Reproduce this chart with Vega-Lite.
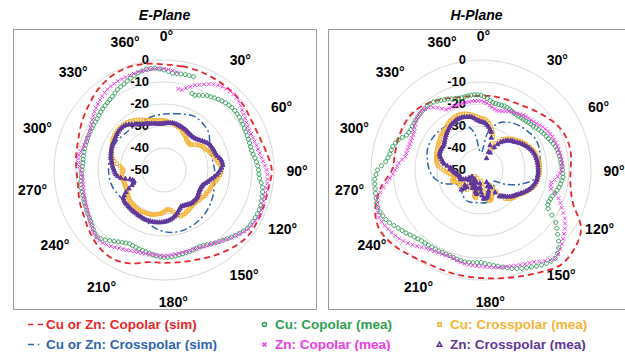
{
"$schema":"https://vega.github.io/schema/vega-lite/v6.json",
"padding":{"left":12,"top":8,"right":0,"bottom":0},
"spacing":10,
"config":{"font":"Liberation Sans","view":{"stroke":"#9a9a9a","strokeWidth":1},"title":{"fontSize":14,"fontWeight":"bold","fontStyle":"italic","offset":6,"color":"black"}},
"datasets":{
"rl":[{"t":"0","v":0},{"t":"-10","v":-10},{"t":"-20","v":-20},{"t":"-30","v":-30},{"t":"-40","v":-40},{"t":"-50","v":-50}],
"ang":[{"t":"0°","a":1},{"t":"30°","a":35},{"t":"60°","a":62},{"t":"90°","a":91},{"t":"120°","a":117},{"t":"150°","a":143},{"t":"180°","a":176},{"t":"210°","a":208},{"t":"240°","a":235},{"t":"270°","a":261},{"t":"300°","a":288},{"t":"330°","a":317},{"t":"360°","a":343}],
"E":[
{"s":"cs","a":0,"v":-2},{"s":"cs","a":10,"v":-2.2},{"s":"cs","a":20,"v":-2.3},{"s":"cs","a":30,"v":-2.6},{"s":"cs","a":40,"v":-2.9},{"s":"cs","a":50,"v":-3.3},{"s":"cs","a":60,"v":-4.3},{"s":"cs","a":70,"v":-4.2},{"s":"cs","a":80,"v":-2.8},{"s":"cs","a":90,"v":-1},{"s":"cs","a":100,"v":-1.8},{"s":"cs","a":110,"v":-1.8},{"s":"cs","a":120,"v":-1.5},{"s":"cs","a":130,"v":-1.6},{"s":"cs","a":140,"v":-3.2},{"s":"cs","a":150,"v":-5},{"s":"cs","a":160,"v":-6.6},{"s":"cs","a":170,"v":-7.5},{"s":"cs","a":180,"v":-7.8},{"s":"cs","a":190,"v":-7.5},{"s":"cs","a":200,"v":-4.8},{"s":"cs","a":210,"v":-3.4},{"s":"cs","a":220,"v":-4.1},{"s":"cs","a":230,"v":-6},{"s":"cs","a":240,"v":-8},{"s":"cs","a":250,"v":-9.1},{"s":"cs","a":260,"v":-10.3},{"s":"cs","a":270,"v":-10.2},{"s":"cs","a":280,"v":-9.5},{"s":"cs","a":290,"v":-8.6},{"s":"cs","a":300,"v":-6.8},{"s":"cs","a":310,"v":-5},{"s":"cs","a":320,"v":-2.8},{"s":"cs","a":330,"v":-1.2},{"s":"cs","a":340,"v":-0.6},{"s":"cs","a":350,"v":-1},
{"s":"xs","a":0,"v":-24.5},{"s":"xs","a":10,"v":-24},{"s":"xs","a":20,"v":-23},{"s":"xs","a":30,"v":-22},{"s":"xs","a":40,"v":-22.5},{"s":"xs","a":50,"v":-23.5},{"s":"xs","a":60,"v":-26},{"s":"xs","a":70,"v":-27.5},{"s":"xs","a":80,"v":-27.5},{"s":"xs","a":90,"v":-27},{"s":"xs","a":100,"v":-26.8},{"s":"xs","a":110,"v":-25.8},{"s":"xs","a":120,"v":-24.6},{"s":"xs","a":130,"v":-23.5},{"s":"xs","a":140,"v":-22.5},{"s":"xs","a":150,"v":-21.8},{"s":"xs","a":160,"v":-21.3},{"s":"xs","a":170,"v":-21.3},{"s":"xs","a":180,"v":-22},{"s":"xs","a":190,"v":-23.5},{"s":"xs","a":200,"v":-25.5},{"s":"xs","a":210,"v":-26.5},{"s":"xs","a":220,"v":-27},{"s":"xs","a":230,"v":-27},{"s":"xs","a":240,"v":-26.5},{"s":"xs","a":250,"v":-25.5},{"s":"xs","a":260,"v":-25},{"s":"xs","a":270,"v":-24.8},{"s":"xs","a":280,"v":-24.7},{"s":"xs","a":290,"v":-24.5},{"s":"xs","a":300,"v":-24.8},{"s":"xs","a":310,"v":-25.5},{"s":"xs","a":320,"v":-26},{"s":"xs","a":330,"v":-26},{"s":"xs","a":340,"v":-25.5},{"s":"xs","a":350,"v":-25},
{"s":"cc","a":0,"v":-4.5},{"s":"cc","a":5,"v":-5.8},{"s":"cc","a":10,"v":-5.7},{"s":"cc","a":15,"v":-5.6},{"s":"cc","a":20,"v":-13},{"s":"cc","a":25,"v":-12.5},{"s":"cc","a":30,"v":-11},{"s":"cc","a":35,"v":-10},{"s":"cc","a":40,"v":-9},{"s":"cc","a":45,"v":-8.3},{"s":"cc","a":50,"v":-8},{"s":"cc","a":55,"v":-8.2},{"s":"cc","a":60,"v":-8.6},{"s":"cc","a":65,"v":-8.9},{"s":"cc","a":70,"v":-9.1},{"s":"cc","a":75,"v":-9.2},{"s":"cc","a":80,"v":-8.8},{"s":"cc","a":85,"v":-7.8},{"s":"cc","a":90,"v":-7},{"s":"cc","a":95,"v":-6.4},{"s":"cc","a":100,"v":-4.5},{"s":"cc","a":105,"v":-3.8},{"s":"cc","a":110,"v":-3.2},{"s":"cc","a":115,"v":-3.1},{"s":"cc","a":120,"v":-3.3},{"s":"cc","a":125,"v":-3.8},{"s":"cc","a":130,"v":-5.2},{"s":"cc","a":135,"v":-6.8},{"s":"cc","a":140,"v":-8.3},{"s":"cc","a":145,"v":-9.5},{"s":"cc","a":150,"v":-10.8},{"s":"cc","a":155,"v":-11.6},{"s":"cc","a":160,"v":-11.4},{"s":"cc","a":165,"v":-11.2},{"s":"cc","a":170,"v":-10.8},{"s":"cc","a":175,"v":-10.4},{"s":"cc","a":180,"v":-10.2},{"s":"cc","a":185,"v":-10.8},{"s":"cc","a":190,"v":-11.6},{"s":"cc","a":195,"v":-12.2},{"s":"cc","a":200,"v":-12.6},{"s":"cc","a":205,"v":-13},{"s":"cc","a":210,"v":-12},{"s":"cc","a":215,"v":-10.5},{"s":"cc","a":220,"v":-8.5},{"s":"cc","a":225,"v":-7},{"s":"cc","a":230,"v":-8},{"s":"cc","a":235,"v":-9.3},{"s":"cc","a":240,"v":-10},{"s":"cc","a":245,"v":-10.8},{"s":"cc","a":250,"v":-11.3},{"s":"cc","a":255,"v":-11.5},{"s":"cc","a":260,"v":-11.8},{"s":"cc","a":265,"v":-12.3},{"s":"cc","a":270,"v":-12.8},{"s":"cc","a":275,"v":-13},{"s":"cc","a":280,"v":-12.8},{"s":"cc","a":285,"v":-12.6},{"s":"cc","a":290,"v":-12.5},{"s":"cc","a":295,"v":-12.3},{"s":"cc","a":300,"v":-12.1},{"s":"cc","a":305,"v":-11.9},{"s":"cc","a":310,"v":-11.4},{"s":"cc","a":315,"v":-10.6},{"s":"cc","a":320,"v":-10},{"s":"cc","a":325,"v":-9.2},{"s":"cc","a":330,"v":-7.8},{"s":"cc","a":335,"v":-6.9},{"s":"cc","a":340,"v":-5.6},{"s":"cc","a":345,"v":-4.3},{"s":"cc","a":350,"v":-3.5},{"s":"cc","a":355,"v":-3.5},
{"s":"cc","a":2.5,"v":-5.2},{"s":"cc","a":7.5,"v":-5.8},{"s":"cc","a":12.5,"v":-5.6},{"s":"cc","a":17.5,"v":-5.5},{"s":"cc","a":22.5,"v":-13.2},{"s":"cc","a":27.5,"v":-11.8},{"s":"cc","a":32.5,"v":-10.5},{"s":"cc","a":37.5,"v":-9.5},{"s":"cc","a":42.5,"v":-8.6},{"s":"cc","a":47.5,"v":-8.1},{"s":"cc","a":52.5,"v":-8.1},{"s":"cc","a":57.5,"v":-8.4},{"s":"cc","a":62.5,"v":-8.8},{"s":"cc","a":67.5,"v":-9},{"s":"cc","a":72.5,"v":-9.2},{"s":"cc","a":77.5,"v":-9.1},{"s":"cc","a":82.5,"v":-8.3},{"s":"cc","a":87.5,"v":-7.4},{"s":"cc","a":92.5,"v":-6.8},{"s":"cc","a":97.5,"v":-5.4},{"s":"cc","a":102.5,"v":-4.1},{"s":"cc","a":107.5,"v":-3.5},{"s":"cc","a":112.5,"v":-3.1},{"s":"cc","a":117.5,"v":-3.2},{"s":"cc","a":122.5,"v":-3.5},{"s":"cc","a":127.5,"v":-4.5},{"s":"cc","a":132.5,"v":-6},{"s":"cc","a":137.5,"v":-7.6},{"s":"cc","a":142.5,"v":-8.9},{"s":"cc","a":147.5,"v":-10.2},{"s":"cc","a":152.5,"v":-11.3},{"s":"cc","a":157.5,"v":-11.5},{"s":"cc","a":162.5,"v":-11.3},{"s":"cc","a":167.5,"v":-11},{"s":"cc","a":172.5,"v":-10.6},{"s":"cc","a":177.5,"v":-10.3},{"s":"cc","a":182.5,"v":-10.5},{"s":"cc","a":187.5,"v":-11.2},{"s":"cc","a":192.5,"v":-11.9},{"s":"cc","a":197.5,"v":-12.4},{"s":"cc","a":202.5,"v":-12.8},{"s":"cc","a":207.5,"v":-12.6},{"s":"cc","a":212.5,"v":-11.3},{"s":"cc","a":217.5,"v":-9.5},{"s":"cc","a":222.5,"v":-7.6},{"s":"cc","a":227.5,"v":-7.4},{"s":"cc","a":232.5,"v":-8.7},{"s":"cc","a":237.5,"v":-9.7},{"s":"cc","a":242.5,"v":-10.4},{"s":"cc","a":247.5,"v":-11},{"s":"cc","a":252.5,"v":-11.4},{"s":"cc","a":257.5,"v":-11.6},{"s":"cc","a":262.5,"v":-12},{"s":"cc","a":267.5,"v":-12.5},{"s":"cc","a":272.5,"v":-12.9},{"s":"cc","a":277.5,"v":-12.9},{"s":"cc","a":282.5,"v":-12.7},{"s":"cc","a":287.5,"v":-12.5},{"s":"cc","a":292.5,"v":-12.4},{"s":"cc","a":297.5,"v":-12.2},{"s":"cc","a":302.5,"v":-12},{"s":"cc","a":307.5,"v":-11.7},{"s":"cc","a":312.5,"v":-11},{"s":"cc","a":317.5,"v":-10.3},{"s":"cc","a":322.5,"v":-9.6},{"s":"cc","a":327.5,"v":-8.5},{"s":"cc","a":332.5,"v":-7.3},{"s":"cc","a":337.5,"v":-6.2},{"s":"cc","a":342.5,"v":-5},{"s":"cc","a":347.5,"v":-3.9},{"s":"cc","a":352.5,"v":-3.5},{"s":"cc","a":357.5,"v":-4},
{"s":"zc","a":0,"v":-4},{"s":"zc","a":5,"v":-4.7},{"s":"zc","a":10,"v":-12.5},{"s":"zc","a":15,"v":-11.5},{"s":"zc","a":20,"v":-9},{"s":"zc","a":25,"v":-7},{"s":"zc","a":30,"v":-5},{"s":"zc","a":35,"v":-3.8},{"s":"zc","a":40,"v":-3.2},{"s":"zc","a":45,"v":-3.4},{"s":"zc","a":50,"v":-4.5},{"s":"zc","a":55,"v":-5.8},{"s":"zc","a":60,"v":-6.8},{"s":"zc","a":65,"v":-7.3},{"s":"zc","a":70,"v":-7},{"s":"zc","a":75,"v":-6.5},{"s":"zc","a":80,"v":-5.8},{"s":"zc","a":85,"v":-4.8},{"s":"zc","a":90,"v":-3.4},{"s":"zc","a":95,"v":-2.7},{"s":"zc","a":100,"v":-2.7},{"s":"zc","a":105,"v":-2.7},{"s":"zc","a":110,"v":-2.3},{"s":"zc","a":115,"v":-2},{"s":"zc","a":120,"v":-2.5},{"s":"zc","a":125,"v":-3.3},{"s":"zc","a":130,"v":-5},{"s":"zc","a":135,"v":-6.6},{"s":"zc","a":140,"v":-8.3},{"s":"zc","a":145,"v":-9.5},{"s":"zc","a":150,"v":-10.4},{"s":"zc","a":155,"v":-11.2},{"s":"zc","a":160,"v":-11.6},{"s":"zc","a":165,"v":-11.6},{"s":"zc","a":170,"v":-11.5},{"s":"zc","a":175,"v":-11.3},{"s":"zc","a":180,"v":-11},{"s":"zc","a":185,"v":-11.2},{"s":"zc","a":190,"v":-11.3},{"s":"zc","a":195,"v":-11},{"s":"zc","a":200,"v":-10.7},{"s":"zc","a":205,"v":-9.8},{"s":"zc","a":210,"v":-9},{"s":"zc","a":215,"v":-7.8},{"s":"zc","a":220,"v":-6.7},{"s":"zc","a":225,"v":-6.8},{"s":"zc","a":230,"v":-7.8},{"s":"zc","a":235,"v":-9},{"s":"zc","a":240,"v":-10.3},{"s":"zc","a":245,"v":-11},{"s":"zc","a":250,"v":-11.6},{"s":"zc","a":255,"v":-12.2},{"s":"zc","a":260,"v":-12.7},{"s":"zc","a":265,"v":-12.8},{"s":"zc","a":270,"v":-12},{"s":"zc","a":275,"v":-11},{"s":"zc","a":280,"v":-10.7},{"s":"zc","a":285,"v":-11.8},{"s":"zc","a":290,"v":-12.2},{"s":"zc","a":295,"v":-12.2},{"s":"zc","a":300,"v":-11.5},{"s":"zc","a":305,"v":-10.2},{"s":"zc","a":310,"v":-8.8},{"s":"zc","a":315,"v":-7.6},{"s":"zc","a":320,"v":-6.3},{"s":"zc","a":325,"v":-5.2},{"s":"zc","a":330,"v":-4.7},{"s":"zc","a":335,"v":-4.4},{"s":"zc","a":340,"v":-4.3},{"s":"zc","a":345,"v":-4},{"s":"zc","a":350,"v":-3.8},{"s":"zc","a":355,"v":-3.8},
{"s":"zc","a":2.5,"v":-4.3},{"s":"zc","a":7.5,"v":-5.2},{"s":"zc","a":12.5,"v":-12.8},{"s":"zc","a":17.5,"v":-10.3},{"s":"zc","a":22.5,"v":-8},{"s":"zc","a":27.5,"v":-6},{"s":"zc","a":32.5,"v":-4.4},{"s":"zc","a":37.5,"v":-3.5},{"s":"zc","a":42.5,"v":-3.2},{"s":"zc","a":47.5,"v":-3.9},{"s":"zc","a":52.5,"v":-5.2},{"s":"zc","a":57.5,"v":-6.3},{"s":"zc","a":62.5,"v":-7.1},{"s":"zc","a":67.5,"v":-7.2},{"s":"zc","a":72.5,"v":-6.8},{"s":"zc","a":77.5,"v":-6.2},{"s":"zc","a":82.5,"v":-5.3},{"s":"zc","a":87.5,"v":-4.1},{"s":"zc","a":92.5,"v":-3},{"s":"zc","a":97.5,"v":-2.7},{"s":"zc","a":102.5,"v":-2.7},{"s":"zc","a":107.5,"v":-2.5},{"s":"zc","a":112.5,"v":-2.1},{"s":"zc","a":117.5,"v":-2.2},{"s":"zc","a":122.5,"v":-2.9},{"s":"zc","a":127.5,"v":-4.1},{"s":"zc","a":132.5,"v":-5.8},{"s":"zc","a":137.5,"v":-7.4},{"s":"zc","a":142.5,"v":-8.9},{"s":"zc","a":147.5,"v":-10},{"s":"zc","a":152.5,"v":-10.8},{"s":"zc","a":157.5,"v":-11.4},{"s":"zc","a":162.5,"v":-11.6},{"s":"zc","a":167.5,"v":-11.6},{"s":"zc","a":172.5,"v":-11.4},{"s":"zc","a":177.5,"v":-11.1},{"s":"zc","a":182.5,"v":-11.1},{"s":"zc","a":187.5,"v":-11.3},{"s":"zc","a":192.5,"v":-11.2},{"s":"zc","a":197.5,"v":-10.9},{"s":"zc","a":202.5,"v":-10.3},{"s":"zc","a":207.5,"v":-9.4},{"s":"zc","a":212.5,"v":-8.4},{"s":"zc","a":217.5,"v":-7.2},{"s":"zc","a":222.5,"v":-6.6},{"s":"zc","a":227.5,"v":-7.3},{"s":"zc","a":232.5,"v":-8.4},{"s":"zc","a":237.5,"v":-9.7},{"s":"zc","a":242.5,"v":-10.7},{"s":"zc","a":247.5,"v":-11.3},{"s":"zc","a":252.5,"v":-11.9},{"s":"zc","a":257.5,"v":-12.5},{"s":"zc","a":262.5,"v":-12.8},{"s":"zc","a":267.5,"v":-12.5},{"s":"zc","a":272.5,"v":-11.5},{"s":"zc","a":277.5,"v":-10.8},{"s":"zc","a":282.5,"v":-11.2},{"s":"zc","a":287.5,"v":-12},{"s":"zc","a":292.5,"v":-12.2},{"s":"zc","a":297.5,"v":-11.9},{"s":"zc","a":302.5,"v":-10.9},{"s":"zc","a":307.5,"v":-9.5},{"s":"zc","a":312.5,"v":-8.2},{"s":"zc","a":317.5,"v":-6.9},{"s":"zc","a":322.5,"v":-5.7},{"s":"zc","a":327.5,"v":-4.9},{"s":"zc","a":332.5,"v":-4.5},{"s":"zc","a":337.5,"v":-4.3},{"s":"zc","a":342.5,"v":-4.1},{"s":"zc","a":347.5,"v":-3.9},{"s":"zc","a":352.5,"v":-3.8},{"s":"zc","a":357.5,"v":-3.9},
{"s":"cx","a":0,"v":-27.5},{"s":"cx","a":5,"v":-28},{"s":"cx","a":10,"v":-28.5},{"s":"cx","a":15,"v":-29},{"s":"cx","a":20,"v":-29.5},{"s":"cx","a":25,"v":-30.5},{"s":"cx","a":30,"v":-31.5},{"s":"cx","a":35,"v":-32.5},{"s":"cx","a":40,"v":-33.2},{"s":"cx","a":45,"v":-33.6},{"s":"cx","a":50,"v":-32},{"s":"cx","a":55,"v":-30.5},{"s":"cx","a":60,"v":-29.3},{"s":"cx","a":65,"v":-28.5},{"s":"cx","a":70,"v":-27.5},{"s":"cx","a":75,"v":-26.5},{"s":"cx","a":80,"v":-25.5},{"s":"cx","a":85,"v":-24.5},{"s":"cx","a":90,"v":-24},{"s":"cx","a":95,"v":-24.5},{"s":"cx","a":100,"v":-25.5},{"s":"cx","a":105,"v":-26.5},{"s":"cx","a":110,"v":-27.3},{"s":"cx","a":115,"v":-27.6},{"s":"cx","a":120,"v":-28},{"s":"cx","a":125,"v":-28.5},{"s":"cx","a":130,"v":-29},{"s":"cx","a":135,"v":-29.5},{"s":"cx","a":140,"v":-29.5},{"s":"cx","a":145,"v":-29},{"s":"cx","a":150,"v":-28.5},{"s":"cx","a":155,"v":-28},{"s":"cx","a":160,"v":-27.7},{"s":"cx","a":165,"v":-29.5},{"s":"cx","a":170,"v":-31.5},{"s":"cx","a":175,"v":-32},{"s":"cx","a":180,"v":-31},{"s":"cx","a":185,"v":-30},{"s":"cx","a":190,"v":-29.5},{"s":"cx","a":195,"v":-29},{"s":"cx","a":200,"v":-28.8},{"s":"cx","a":205,"v":-28.7},{"s":"cx","a":210,"v":-28.6},{"s":"cx","a":215,"v":-28.6},{"s":"cx","a":220,"v":-28.8},{"s":"cx","a":225,"v":-29},{"s":"cx","a":230,"v":-29.2},{"s":"cx","a":235,"v":-30},{"s":"cx","a":240,"v":-30.5},{"s":"cx","a":245,"v":-31},{"s":"cx","a":250,"v":-31.2},{"s":"cx","a":255,"v":-31},{"s":"cx","a":260,"v":-30.5},{"s":"cx","a":265,"v":-30.8},{"s":"cx","a":270,"v":-31.5},{"s":"cx","a":275,"v":-30},{"s":"cx","a":280,"v":-27},{"s":"cx","a":285,"v":-25.5},{"s":"cx","a":290,"v":-24.5},{"s":"cx","a":295,"v":-23.8},{"s":"cx","a":300,"v":-23},{"s":"cx","a":305,"v":-22.5},{"s":"cx","a":310,"v":-22.3},{"s":"cx","a":315,"v":-22.2},{"s":"cx","a":320,"v":-22.5},{"s":"cx","a":325,"v":-23},{"s":"cx","a":330,"v":-23.8},{"s":"cx","a":335,"v":-24.8},{"s":"cx","a":340,"v":-25.8},{"s":"cx","a":345,"v":-26.5},{"s":"cx","a":350,"v":-27},{"s":"cx","a":355,"v":-27.3},
{"s":"cx","a":2.5,"v":-27.6},{"s":"cx","a":7.5,"v":-28.4},{"s":"cx","a":12.5,"v":-28.6},{"s":"cx","a":17.5,"v":-29.4},{"s":"cx","a":22.5,"v":-29.8},{"s":"cx","a":27.5,"v":-31.1},{"s":"cx","a":32.5,"v":-31.8},{"s":"cx","a":37.5,"v":-33},{"s":"cx","a":42.5,"v":-33.3},{"s":"cx","a":47.5,"v":-33},{"s":"cx","a":52.5,"v":-31.2},{"s":"cx","a":57.5,"v":-29.8},{"s":"cx","a":62.5,"v":-29},{"s":"cx","a":67.5,"v":-27.9},{"s":"cx","a":72.5,"v":-27.1},{"s":"cx","a":77.5,"v":-25.9},{"s":"cx","a":82.5,"v":-25.1},{"s":"cx","a":87.5,"v":-24.1},{"s":"cx","a":92.5,"v":-24.2},{"s":"cx","a":97.5,"v":-25.1},{"s":"cx","a":102.5,"v":-25.9},{"s":"cx","a":107.5,"v":-27},{"s":"cx","a":112.5,"v":-27.4},{"s":"cx","a":117.5,"v":-27.9},{"s":"cx","a":122.5,"v":-28.2},{"s":"cx","a":127.5,"v":-28.8},{"s":"cx","a":132.5,"v":-29.3},{"s":"cx","a":137.5,"v":-29.4},{"s":"cx","a":142.5,"v":-29.3},{"s":"cx","a":147.5,"v":-28.7},{"s":"cx","a":152.5,"v":-28.3},{"s":"cx","a":157.5,"v":-27.8},{"s":"cx","a":162.5,"v":-28.5},{"s":"cx","a":167.5,"v":-30.6},{"s":"cx","a":172.5,"v":-31.8},{"s":"cx","a":177.5,"v":-31.6},{"s":"cx","a":182.5,"v":-30.4},{"s":"cx","a":187.5,"v":-29.8},{"s":"cx","a":192.5,"v":-29.2},{"s":"cx","a":197.5,"v":-28.9},{"s":"cx","a":202.5,"v":-28.8},{"s":"cx","a":207.5,"v":-28.6},{"s":"cx","a":212.5,"v":-28.6},{"s":"cx","a":217.5,"v":-28.7},{"s":"cx","a":222.5,"v":-28.9},{"s":"cx","a":227.5,"v":-29.1},{"s":"cx","a":232.5,"v":-29.6},{"s":"cx","a":237.5,"v":-30.3},{"s":"cx","a":242.5,"v":-30.8},{"s":"cx","a":247.5,"v":-31.1},{"s":"cx","a":252.5,"v":-31.1},{"s":"cx","a":257.5,"v":-30.7},{"s":"cx","a":262.5,"v":-30.6},{"s":"cx","a":267.5,"v":-31.2},{"s":"cx","a":272.5,"v":-30.9},{"s":"cx","a":277.5,"v":-28.4},{"s":"cx","a":282.5,"v":-26.2},{"s":"cx","a":287.5,"v":-25},{"s":"cx","a":292.5,"v":-24.1},{"s":"cx","a":297.5,"v":-23.4},{"s":"cx","a":302.5,"v":-22.8},{"s":"cx","a":307.5,"v":-22.4},{"s":"cx","a":312.5,"v":-22.2},{"s":"cx","a":317.5,"v":-22.3},{"s":"cx","a":322.5,"v":-22.7},{"s":"cx","a":327.5,"v":-23.4},{"s":"cx","a":332.5,"v":-24.3},{"s":"cx","a":337.5,"v":-25.3},{"s":"cx","a":342.5,"v":-26.2},{"s":"cx","a":347.5,"v":-26.8},{"s":"cx","a":352.5,"v":-27.2},{"s":"cx","a":357.5,"v":-27.4},
{"s":"zx","a":0,"v":-28.8},{"s":"zx","a":5,"v":-28.5},{"s":"zx","a":10,"v":-28.2},{"s":"zx","a":15,"v":-28.3},{"s":"zx","a":20,"v":-28.6},{"s":"zx","a":25,"v":-29},{"s":"zx","a":30,"v":-29.3},{"s":"zx","a":35,"v":-29.8},{"s":"zx","a":40,"v":-30},{"s":"zx","a":45,"v":-29.7},{"s":"zx","a":50,"v":-28.8},{"s":"zx","a":55,"v":-27.5},{"s":"zx","a":60,"v":-26.2},{"s":"zx","a":65,"v":-25.8},{"s":"zx","a":70,"v":-25.5},{"s":"zx","a":75,"v":-25},{"s":"zx","a":80,"v":-23.5},{"s":"zx","a":85,"v":-23.2},{"s":"zx","a":90,"v":-24.5},{"s":"zx","a":95,"v":-26},{"s":"zx","a":100,"v":-28},{"s":"zx","a":105,"v":-29.5},{"s":"zx","a":110,"v":-31},{"s":"zx","a":115,"v":-31.5},{"s":"zx","a":120,"v":-31.5},{"s":"zx","a":125,"v":-31},{"s":"zx","a":130,"v":-30.5},{"s":"zx","a":135,"v":-30.5},{"s":"zx","a":140,"v":-30.5},{"s":"zx","a":145,"v":-31},{"s":"zx","a":150,"v":-31.5},{"s":"zx","a":155,"v":-31.8},{"s":"zx","a":160,"v":-30.5},{"s":"zx","a":165,"v":-29},{"s":"zx","a":170,"v":-27.8},{"s":"zx","a":175,"v":-27},{"s":"zx","a":180,"v":-26.5},{"s":"zx","a":185,"v":-26.2},{"s":"zx","a":190,"v":-26},{"s":"zx","a":195,"v":-26},{"s":"zx","a":200,"v":-26},{"s":"zx","a":205,"v":-26.3},{"s":"zx","a":210,"v":-26.5},{"s":"zx","a":215,"v":-26.7},{"s":"zx","a":220,"v":-26.8},{"s":"zx","a":225,"v":-27},{"s":"zx","a":230,"v":-27},{"s":"zx","a":235,"v":-27.5},{"s":"zx","a":240,"v":-30},{"s":"zx","a":245,"v":-34},{"s":"zx","a":250,"v":-35.5},{"s":"zx","a":255,"v":-34},{"s":"zx","a":260,"v":-30},{"s":"zx","a":265,"v":-28},{"s":"zx","a":270,"v":-27.3},{"s":"zx","a":275,"v":-26.5},{"s":"zx","a":280,"v":-25.8},{"s":"zx","a":285,"v":-25},{"s":"zx","a":290,"v":-24.5},{"s":"zx","a":295,"v":-24},{"s":"zx","a":300,"v":-23.7},{"s":"zx","a":305,"v":-23.3},{"s":"zx","a":310,"v":-22.8},{"s":"zx","a":315,"v":-22.7},{"s":"zx","a":320,"v":-23.2},{"s":"zx","a":325,"v":-24.5},{"s":"zx","a":330,"v":-26},{"s":"zx","a":335,"v":-27},{"s":"zx","a":340,"v":-27.5},{"s":"zx","a":345,"v":-28},{"s":"zx","a":350,"v":-28.5},{"s":"zx","a":355,"v":-28.8},
{"s":"zx","a":2.5,"v":-28.6},{"s":"zx","a":7.5,"v":-28.4},{"s":"zx","a":12.5,"v":-28.2},{"s":"zx","a":17.5,"v":-28.5},{"s":"zx","a":22.5,"v":-28.8},{"s":"zx","a":27.5,"v":-29.1},{"s":"zx","a":32.5,"v":-29.6},{"s":"zx","a":37.5,"v":-29.9},{"s":"zx","a":42.5,"v":-29.9},{"s":"zx","a":47.5,"v":-29.3},{"s":"zx","a":52.5,"v":-28.1},{"s":"zx","a":57.5,"v":-26.8},{"s":"zx","a":62.5,"v":-26},{"s":"zx","a":67.5,"v":-25.6},{"s":"zx","a":72.5,"v":-25.3},{"s":"zx","a":77.5,"v":-24.2},{"s":"zx","a":82.5,"v":-23.3},{"s":"zx","a":87.5,"v":-23.8},{"s":"zx","a":92.5,"v":-25.2},{"s":"zx","a":97.5,"v":-27},{"s":"zx","a":102.5,"v":-28.8},{"s":"zx","a":107.5,"v":-30.3},{"s":"zx","a":112.5,"v":-31.3},{"s":"zx","a":117.5,"v":-31.5},{"s":"zx","a":122.5,"v":-31.2},{"s":"zx","a":127.5,"v":-30.7},{"s":"zx","a":132.5,"v":-30.5},{"s":"zx","a":137.5,"v":-30.5},{"s":"zx","a":142.5,"v":-30.7},{"s":"zx","a":147.5,"v":-31.3},{"s":"zx","a":152.5,"v":-31.7},{"s":"zx","a":157.5,"v":-31.2},{"s":"zx","a":162.5,"v":-29.7},{"s":"zx","a":167.5,"v":-28.4},{"s":"zx","a":172.5,"v":-27.4},{"s":"zx","a":177.5,"v":-26.7},{"s":"zx","a":182.5,"v":-26.3},{"s":"zx","a":187.5,"v":-26.1},{"s":"zx","a":192.5,"v":-26},{"s":"zx","a":197.5,"v":-26},{"s":"zx","a":202.5,"v":-26.1},{"s":"zx","a":207.5,"v":-26.4},{"s":"zx","a":212.5,"v":-26.6},{"s":"zx","a":217.5,"v":-26.7},{"s":"zx","a":222.5,"v":-26.9},{"s":"zx","a":227.5,"v":-27},{"s":"zx","a":232.5,"v":-27.2},{"s":"zx","a":237.5,"v":-28.5},{"s":"zx","a":242.5,"v":-32},{"s":"zx","a":247.5,"v":-35},{"s":"zx","a":252.5,"v":-35},{"s":"zx","a":257.5,"v":-32},{"s":"zx","a":262.5,"v":-28.8},{"s":"zx","a":267.5,"v":-27.6},{"s":"zx","a":272.5,"v":-26.9},{"s":"zx","a":277.5,"v":-26.1},{"s":"zx","a":282.5,"v":-25.4},{"s":"zx","a":287.5,"v":-24.7},{"s":"zx","a":292.5,"v":-24.2},{"s":"zx","a":297.5,"v":-23.8},{"s":"zx","a":302.5,"v":-23.5},{"s":"zx","a":307.5,"v":-23},{"s":"zx","a":312.5,"v":-22.7},{"s":"zx","a":317.5,"v":-22.9},{"s":"zx","a":322.5,"v":-23.8},{"s":"zx","a":327.5,"v":-25.3},{"s":"zx","a":332.5,"v":-26.5},{"s":"zx","a":337.5,"v":-27.3},{"s":"zx","a":342.5,"v":-27.8},{"s":"zx","a":347.5,"v":-28.3},{"s":"zx","a":352.5,"v":-28.7},{"s":"zx","a":357.5,"v":-28.8}
],
"H":[
{"s":"cs","a":0,"v":-16.3},{"s":"cs","a":10,"v":-16},{"s":"cs","a":20,"v":-16},{"s":"cs","a":30,"v":-15.5},{"s":"cs","a":40,"v":-14},{"s":"cs","a":50,"v":-12},{"s":"cs","a":60,"v":-9.7},{"s":"cs","a":70,"v":-8.5},{"s":"cs","a":80,"v":-8.5},{"s":"cs","a":90,"v":-9.3},{"s":"cs","a":100,"v":-8.7},{"s":"cs","a":110,"v":-5.5},{"s":"cs","a":120,"v":2.5},{"s":"cs","a":130,"v":5.5},{"s":"cs","a":140,"v":6.3},{"s":"cs","a":150,"v":3.7},{"s":"cs","a":160,"v":1.5},{"s":"cs","a":170,"v":0},{"s":"cs","a":180,"v":-0.9},{"s":"cs","a":190,"v":-1.2},{"s":"cs","a":200,"v":-1.3},{"s":"cs","a":210,"v":-1},{"s":"cs","a":220,"v":0.5},{"s":"cs","a":230,"v":2.5},{"s":"cs","a":240,"v":3.5},{"s":"cs","a":250,"v":1.2},{"s":"cs","a":260,"v":-3.8},{"s":"cs","a":270,"v":-9.5},{"s":"cs","a":280,"v":-10.2},{"s":"cs","a":290,"v":-9.8},{"s":"cs","a":300,"v":-9.4},{"s":"cs","a":310,"v":-9.5},{"s":"cs","a":320,"v":-11},{"s":"cs","a":330,"v":-13},{"s":"cs","a":340,"v":-15},{"s":"cs","a":350,"v":-16},
{"s":"xs","a":0,"v":-42},{"s":"xs","a":10,"v":-33},{"s":"xs","a":20,"v":-27.5},{"s":"xs","a":30,"v":-25},{"s":"xs","a":40,"v":-23.5},{"s":"xs","a":50,"v":-22.5},{"s":"xs","a":60,"v":-21.5},{"s":"xs","a":70,"v":-21.8},{"s":"xs","a":80,"v":-22.8},{"s":"xs","a":90,"v":-24},{"s":"xs","a":100,"v":-25.5},{"s":"xs","a":110,"v":-31},{"s":"xs","a":120,"v":-37},{"s":"xs","a":130,"v":-42},{"s":"xs","a":140,"v":-41},{"s":"xs","a":150,"v":-38},{"s":"xs","a":160,"v":-36},{"s":"xs","a":170,"v":-35},{"s":"xs","a":180,"v":-35},{"s":"xs","a":190,"v":-35},{"s":"xs","a":200,"v":-34.5},{"s":"xs","a":210,"v":-35},{"s":"xs","a":220,"v":-36.5},{"s":"xs","a":230,"v":-37.5},{"s":"xs","a":240,"v":-37},{"s":"xs","a":250,"v":-32},{"s":"xs","a":260,"v":-28.5},{"s":"xs","a":270,"v":-26.5},{"s":"xs","a":280,"v":-25.3},{"s":"xs","a":290,"v":-24},{"s":"xs","a":300,"v":-23.6},{"s":"xs","a":310,"v":-23.8},{"s":"xs","a":320,"v":-24.4},{"s":"xs","a":330,"v":-25.5},{"s":"xs","a":340,"v":-28},{"s":"xs","a":350,"v":-33},
{"s":"cc","a":0,"v":-16},{"s":"cc","a":5,"v":-17.3},{"s":"cc","a":10,"v":-18.8},{"s":"cc","a":15,"v":-19.2},{"s":"cc","a":20,"v":-19},{"s":"cc","a":25,"v":-19.5},{"s":"cc","a":30,"v":-20},{"s":"cc","a":35,"v":-20.2},{"s":"cc","a":40,"v":-20},{"s":"cc","a":45,"v":-19.5},{"s":"cc","a":50,"v":-19},{"s":"cc","a":55,"v":-18},{"s":"cc","a":60,"v":-17},{"s":"cc","a":65,"v":-16.2},{"s":"cc","a":70,"v":-15},{"s":"cc","a":75,"v":-14.2},{"s":"cc","a":80,"v":-13.8},{"s":"cc","a":85,"v":-13.5},{"s":"cc","a":90,"v":-13},{"s":"cc","a":95,"v":-12.6},{"s":"cc","a":100,"v":-13.3},{"s":"cc","a":105,"v":-14.2},{"s":"cc","a":110,"v":-15.5},{"s":"cc","a":115,"v":-16},{"s":"cc","a":120,"v":-14.8},{"s":"cc","a":125,"v":-8.5},{"s":"cc","a":130,"v":-4.5},{"s":"cc","a":135,"v":0},{"s":"cc","a":140,"v":2.5},{"s":"cc","a":145,"v":1.8},{"s":"cc","a":150,"v":0.5},{"s":"cc","a":155,"v":-1},{"s":"cc","a":160,"v":-2.3},{"s":"cc","a":165,"v":-4},{"s":"cc","a":170,"v":-5.6},{"s":"cc","a":175,"v":-6.8},{"s":"cc","a":180,"v":-8},{"s":"cc","a":185,"v":-7.8},{"s":"cc","a":190,"v":-7.6},{"s":"cc","a":195,"v":-8},{"s":"cc","a":200,"v":-8.6},{"s":"cc","a":205,"v":-8.6},{"s":"cc","a":210,"v":-8.5},{"s":"cc","a":215,"v":-8.3},{"s":"cc","a":220,"v":-8},{"s":"cc","a":225,"v":-7},{"s":"cc","a":230,"v":-5.5},{"s":"cc","a":235,"v":-4},{"s":"cc","a":240,"v":-2},{"s":"cc","a":245,"v":-0.7},{"s":"cc","a":250,"v":0},{"s":"cc","a":255,"v":-0.6},{"s":"cc","a":260,"v":-1.2},{"s":"cc","a":265,"v":-1.5},{"s":"cc","a":270,"v":-3},{"s":"cc","a":275,"v":-6.5},{"s":"cc","a":280,"v":-8},{"s":"cc","a":285,"v":-8.5},{"s":"cc","a":290,"v":-10},{"s":"cc","a":295,"v":-12.6},{"s":"cc","a":300,"v":-13.2},{"s":"cc","a":305,"v":-12.8},{"s":"cc","a":310,"v":-12.5},{"s":"cc","a":315,"v":-12.2},{"s":"cc","a":320,"v":-12},{"s":"cc","a":325,"v":-12.3},{"s":"cc","a":330,"v":-13.5},{"s":"cc","a":335,"v":-14.4},{"s":"cc","a":340,"v":-15.5},{"s":"cc","a":345,"v":-16},{"s":"cc","a":350,"v":-15.8},{"s":"cc","a":355,"v":-15.6},
{"s":"cc","a":2.5,"v":-16.6},{"s":"cc","a":7.5,"v":-18.1},{"s":"cc","a":12.5,"v":-19},{"s":"cc","a":17.5,"v":-19.1},{"s":"cc","a":22.5,"v":-19.2},{"s":"cc","a":27.5,"v":-19.8},{"s":"cc","a":32.5,"v":-20.1},{"s":"cc","a":37.5,"v":-20.1},{"s":"cc","a":42.5,"v":-19.8},{"s":"cc","a":47.5,"v":-19.2},{"s":"cc","a":52.5,"v":-18.5},{"s":"cc","a":57.5,"v":-17.5},{"s":"cc","a":62.5,"v":-16.6},{"s":"cc","a":67.5,"v":-15.6},{"s":"cc","a":72.5,"v":-14.6},{"s":"cc","a":77.5,"v":-14},{"s":"cc","a":82.5,"v":-13.6},{"s":"cc","a":87.5,"v":-13.2},{"s":"cc","a":92.5,"v":-12.8},{"s":"cc","a":97.5,"v":-12.9},{"s":"cc","a":102.5,"v":-13.7},{"s":"cc","a":107.5,"v":-14.8},{"s":"cc","a":112.5,"v":-15.8},{"s":"cc","a":117.5,"v":-15.8},{"s":"cc","a":122.5,"v":-11.8},{"s":"cc","a":127.5,"v":-6.5},{"s":"cc","a":132.5,"v":-2.2},{"s":"cc","a":137.5,"v":1.4},{"s":"cc","a":142.5,"v":2.3},{"s":"cc","a":147.5,"v":1.2},{"s":"cc","a":152.5,"v":-0.3},{"s":"cc","a":157.5,"v":-1.6},{"s":"cc","a":162.5,"v":-3.1},{"s":"cc","a":167.5,"v":-4.8},{"s":"cc","a":172.5,"v":-6.2},{"s":"cc","a":177.5,"v":-7.4},{"s":"cc","a":182.5,"v":-7.9},{"s":"cc","a":187.5,"v":-7.7},{"s":"cc","a":192.5,"v":-7.8},{"s":"cc","a":197.5,"v":-8.3},{"s":"cc","a":202.5,"v":-8.6},{"s":"cc","a":207.5,"v":-8.5},{"s":"cc","a":212.5,"v":-8.4},{"s":"cc","a":217.5,"v":-8.2},{"s":"cc","a":222.5,"v":-7.5},{"s":"cc","a":227.5,"v":-6.3},{"s":"cc","a":232.5,"v":-4.8},{"s":"cc","a":237.5,"v":-3},{"s":"cc","a":242.5,"v":-1.3},{"s":"cc","a":247.5,"v":-0.3},{"s":"cc","a":252.5,"v":-0.3},{"s":"cc","a":257.5,"v":-0.9},{"s":"cc","a":262.5,"v":-1.3},{"s":"cc","a":267.5,"v":-2.2},{"s":"cc","a":272.5,"v":-4.7},{"s":"cc","a":277.5,"v":-7.3},{"s":"cc","a":282.5,"v":-8.2},{"s":"cc","a":287.5,"v":-9.2},{"s":"cc","a":292.5,"v":-11.3},{"s":"cc","a":297.5,"v":-13},{"s":"cc","a":302.5,"v":-13},{"s":"cc","a":307.5,"v":-12.6},{"s":"cc","a":312.5,"v":-12.3},{"s":"cc","a":317.5,"v":-12.1},{"s":"cc","a":322.5,"v":-12.1},{"s":"cc","a":327.5,"v":-12.9},{"s":"cc","a":332.5,"v":-14},{"s":"cc","a":337.5,"v":-15},{"s":"cc","a":342.5,"v":-15.8},{"s":"cc","a":347.5,"v":-15.9},{"s":"cc","a":352.5,"v":-15.7},{"s":"cc","a":357.5,"v":-15.8},
{"s":"zc","a":0,"v":-18.5},{"s":"zc","a":5,"v":-19.5},{"s":"zc","a":10,"v":-21},{"s":"zc","a":15,"v":-22},{"s":"zc","a":20,"v":-21.5},{"s":"zc","a":25,"v":-20.5},{"s":"zc","a":30,"v":-19.8},{"s":"zc","a":35,"v":-19},{"s":"zc","a":40,"v":-18.3},{"s":"zc","a":45,"v":-17.8},{"s":"zc","a":50,"v":-17.2},{"s":"zc","a":55,"v":-15.8},{"s":"zc","a":60,"v":-14.8},{"s":"zc","a":65,"v":-14.2},{"s":"zc","a":70,"v":-13.8},{"s":"zc","a":75,"v":-13.5},{"s":"zc","a":80,"v":-13.2},{"s":"zc","a":85,"v":-13},{"s":"zc","a":90,"v":-13.5},{"s":"zc","a":95,"v":-15},{"s":"zc","a":100,"v":-17.5},{"s":"zc","a":105,"v":-17},{"s":"zc","a":110,"v":-12.5},{"s":"zc","a":115,"v":-9.5},{"s":"zc","a":120,"v":-6},{"s":"zc","a":125,"v":-3.5},{"s":"zc","a":130,"v":-1.3},{"s":"zc","a":135,"v":1},{"s":"zc","a":140,"v":2.5},{"s":"zc","a":145,"v":0.5},{"s":"zc","a":150,"v":-1.8},{"s":"zc","a":155,"v":-2.8},{"s":"zc","a":160,"v":-3.8},{"s":"zc","a":165,"v":-4.5},{"s":"zc","a":170,"v":-5},{"s":"zc","a":175,"v":-5.6},{"s":"zc","a":180,"v":-6.2},{"s":"zc","a":185,"v":-6.5},{"s":"zc","a":190,"v":-6.8},{"s":"zc","a":195,"v":-7.5},{"s":"zc","a":200,"v":-8.2},{"s":"zc","a":205,"v":-8},{"s":"zc","a":210,"v":-7.3},{"s":"zc","a":215,"v":-6.6},{"s":"zc","a":220,"v":-4.8},{"s":"zc","a":225,"v":-3},{"s":"zc","a":230,"v":-1.5},{"s":"zc","a":235,"v":-0.5},{"s":"zc","a":240,"v":0.5},{"s":"zc","a":245,"v":1.2},{"s":"zc","a":250,"v":0},{"s":"zc","a":255,"v":-1.5},{"s":"zc","a":260,"v":-5},{"s":"zc","a":265,"v":-8.5},{"s":"zc","a":270,"v":-11},{"s":"zc","a":275,"v":-12.5},{"s":"zc","a":280,"v":-15},{"s":"zc","a":285,"v":-15.4},{"s":"zc","a":290,"v":-15.5},{"s":"zc","a":295,"v":-15.3},{"s":"zc","a":300,"v":-15},{"s":"zc","a":305,"v":-13.5},{"s":"zc","a":310,"v":-12.3},{"s":"zc","a":315,"v":-11.8},{"s":"zc","a":320,"v":-13},{"s":"zc","a":325,"v":-15.5},{"s":"zc","a":330,"v":-18.3},{"s":"zc","a":335,"v":-18.5},{"s":"zc","a":340,"v":-18.6},{"s":"zc","a":345,"v":-18.6},{"s":"zc","a":350,"v":-18.5},{"s":"zc","a":355,"v":-18.5},
{"s":"zc","a":2.5,"v":-19},{"s":"zc","a":7.5,"v":-20.3},{"s":"zc","a":12.5,"v":-21.6},{"s":"zc","a":17.5,"v":-21.8},{"s":"zc","a":22.5,"v":-21},{"s":"zc","a":27.5,"v":-20.1},{"s":"zc","a":32.5,"v":-19.4},{"s":"zc","a":37.5,"v":-18.6},{"s":"zc","a":42.5,"v":-18},{"s":"zc","a":47.5,"v":-17.5},{"s":"zc","a":52.5,"v":-16.5},{"s":"zc","a":57.5,"v":-15.3},{"s":"zc","a":62.5,"v":-14.5},{"s":"zc","a":67.5,"v":-14},{"s":"zc","a":72.5,"v":-13.6},{"s":"zc","a":77.5,"v":-13.3},{"s":"zc","a":82.5,"v":-13.1},{"s":"zc","a":87.5,"v":-13.2},{"s":"zc","a":92.5,"v":-14.2},{"s":"zc","a":97.5,"v":-16.3},{"s":"zc","a":102.5,"v":-17.5},{"s":"zc","a":107.5,"v":-14.8},{"s":"zc","a":112.5,"v":-11},{"s":"zc","a":117.5,"v":-7.8},{"s":"zc","a":122.5,"v":-4.7},{"s":"zc","a":127.5,"v":-2.4},{"s":"zc","a":132.5,"v":-0.2},{"s":"zc","a":137.5,"v":1.8},{"s":"zc","a":142.5,"v":1.6},{"s":"zc","a":147.5,"v":-0.7},{"s":"zc","a":152.5,"v":-2.3},{"s":"zc","a":157.5,"v":-3.3},{"s":"zc","a":162.5,"v":-4.2},{"s":"zc","a":167.5,"v":-4.8},{"s":"zc","a":172.5,"v":-5.3},{"s":"zc","a":177.5,"v":-5.9},{"s":"zc","a":182.5,"v":-6.3},{"s":"zc","a":187.5,"v":-6.6},{"s":"zc","a":192.5,"v":-7.1},{"s":"zc","a":197.5,"v":-7.9},{"s":"zc","a":202.5,"v":-8.1},{"s":"zc","a":207.5,"v":-7.7},{"s":"zc","a":212.5,"v":-7},{"s":"zc","a":217.5,"v":-5.7},{"s":"zc","a":222.5,"v":-3.9},{"s":"zc","a":227.5,"v":-2.2},{"s":"zc","a":232.5,"v":-1},{"s":"zc","a":237.5,"v":0},{"s":"zc","a":242.5,"v":0.9},{"s":"zc","a":247.5,"v":0.7},{"s":"zc","a":252.5,"v":-0.7},{"s":"zc","a":257.5,"v":-3.2},{"s":"zc","a":262.5,"v":-6.8},{"s":"zc","a":267.5,"v":-9.8},{"s":"zc","a":272.5,"v":-11.8},{"s":"zc","a":277.5,"v":-13.8},{"s":"zc","a":282.5,"v":-15.2},{"s":"zc","a":287.5,"v":-15.5},{"s":"zc","a":292.5,"v":-15.4},{"s":"zc","a":297.5,"v":-15.2},{"s":"zc","a":302.5,"v":-14.3},{"s":"zc","a":307.5,"v":-12.9},{"s":"zc","a":312.5,"v":-12},{"s":"zc","a":317.5,"v":-12.3},{"s":"zc","a":322.5,"v":-14.2},{"s":"zc","a":327.5,"v":-17},{"s":"zc","a":332.5,"v":-18.4},{"s":"zc","a":337.5,"v":-18.6},{"s":"zc","a":342.5,"v":-18.6},{"s":"zc","a":347.5,"v":-18.5},{"s":"zc","a":352.5,"v":-18.5},{"s":"zc","a":357.5,"v":-18.5},
{"s":"cx","a":0,"v":-26.5},{"s":"cx","a":5,"v":-27},{"s":"cx","a":10,"v":-28.5},{"s":"cx","a":15,"v":-31},{"s":"cx","a":20,"v":-34},{"s":"cx","a":25,"v":-40},{"s":"cx","a":30,"v":-36},{"s":"cx","a":35,"v":-33},{"s":"cx","a":40,"v":-31.5},{"s":"cx","a":45,"v":-30},{"s":"cx","a":50,"v":-29},{"s":"cx","a":55,"v":-27.5},{"s":"cx","a":60,"v":-26.5},{"s":"cx","a":65,"v":-25.5},{"s":"cx","a":70,"v":-24.5},{"s":"cx","a":75,"v":-24},{"s":"cx","a":80,"v":-23.5},{"s":"cx","a":85,"v":-23.2},{"s":"cx","a":90,"v":-23.2},{"s":"cx","a":95,"v":-23.5},{"s":"cx","a":100,"v":-24},{"s":"cx","a":105,"v":-24.5},{"s":"cx","a":110,"v":-25.5},{"s":"cx","a":115,"v":-27},{"s":"cx","a":120,"v":-28.5},{"s":"cx","a":125,"v":-30},{"s":"cx","a":130,"v":-30.5},{"s":"cx","a":135,"v":-31.5},{"s":"cx","a":140,"v":-33},{"s":"cx","a":145,"v":-38},{"s":"cx","a":150,"v":-42},{"s":"cx","a":155,"v":-38},{"s":"cx","a":160,"v":-36},{"s":"cx","a":165,"v":-35.5},{"s":"cx","a":170,"v":-38},{"s":"cx","a":175,"v":-42},{"s":"cx","a":180,"v":-45},{"s":"cx","a":185,"v":-41},{"s":"cx","a":190,"v":-37},{"s":"cx","a":195,"v":-38},{"s":"cx","a":200,"v":-42},{"s":"cx","a":205,"v":-46},{"s":"cx","a":210,"v":-42},{"s":"cx","a":215,"v":-39},{"s":"cx","a":220,"v":-43},{"s":"cx","a":225,"v":-46},{"s":"cx","a":230,"v":-41},{"s":"cx","a":235,"v":-38},{"s":"cx","a":240,"v":-39},{"s":"cx","a":245,"v":-37},{"s":"cx","a":250,"v":-36},{"s":"cx","a":255,"v":-38},{"s":"cx","a":260,"v":-37},{"s":"cx","a":265,"v":-35},{"s":"cx","a":270,"v":-33},{"s":"cx","a":275,"v":-30.5},{"s":"cx","a":280,"v":-29.5},{"s":"cx","a":285,"v":-29},{"s":"cx","a":290,"v":-28.5},{"s":"cx","a":295,"v":-28},{"s":"cx","a":300,"v":-27.5},{"s":"cx","a":305,"v":-27},{"s":"cx","a":310,"v":-26},{"s":"cx","a":315,"v":-25.5},{"s":"cx","a":320,"v":-25},{"s":"cx","a":325,"v":-24},{"s":"cx","a":330,"v":-23.5},{"s":"cx","a":335,"v":-23},{"s":"cx","a":340,"v":-23},{"s":"cx","a":345,"v":-23.5},{"s":"cx","a":350,"v":-24.5},{"s":"cx","a":355,"v":-25.5},
{"s":"cx","a":2.5,"v":-26.7},{"s":"cx","a":7.5,"v":-27.7},{"s":"cx","a":12.5,"v":-29.7},{"s":"cx","a":17.5,"v":-32.5},{"s":"cx","a":22.5,"v":-37},{"s":"cx","a":27.5,"v":-38.5},{"s":"cx","a":32.5,"v":-34.5},{"s":"cx","a":37.5,"v":-32.2},{"s":"cx","a":42.5,"v":-30.7},{"s":"cx","a":47.5,"v":-29.5},{"s":"cx","a":52.5,"v":-28.2},{"s":"cx","a":57.5,"v":-27},{"s":"cx","a":62.5,"v":-26},{"s":"cx","a":67.5,"v":-25},{"s":"cx","a":72.5,"v":-24.2},{"s":"cx","a":77.5,"v":-23.7},{"s":"cx","a":82.5,"v":-23.3},{"s":"cx","a":87.5,"v":-23.2},{"s":"cx","a":92.5,"v":-23.3},{"s":"cx","a":97.5,"v":-23.7},{"s":"cx","a":102.5,"v":-24.2},{"s":"cx","a":107.5,"v":-25},{"s":"cx","a":112.5,"v":-26.2},{"s":"cx","a":117.5,"v":-27.7},{"s":"cx","a":122.5,"v":-29.3},{"s":"cx","a":127.5,"v":-30.2},{"s":"cx","a":132.5,"v":-31},{"s":"cx","a":137.5,"v":-32.2},{"s":"cx","a":142.5,"v":-35.5},{"s":"cx","a":147.5,"v":-40},{"s":"cx","a":152.5,"v":-40},{"s":"cx","a":157.5,"v":-37},{"s":"cx","a":162.5,"v":-35.7},{"s":"cx","a":167.5,"v":-36.7},{"s":"cx","a":172.5,"v":-40},{"s":"cx","a":177.5,"v":-43.5},{"s":"cx","a":182.5,"v":-43},{"s":"cx","a":187.5,"v":-39},{"s":"cx","a":192.5,"v":-37.3},{"s":"cx","a":197.5,"v":-40},{"s":"cx","a":202.5,"v":-44},{"s":"cx","a":207.5,"v":-44},{"s":"cx","a":212.5,"v":-40.5},{"s":"cx","a":217.5,"v":-41},{"s":"cx","a":222.5,"v":-44.5},{"s":"cx","a":227.5,"v":-43.5},{"s":"cx","a":232.5,"v":-39.5},{"s":"cx","a":237.5,"v":-38.5},{"s":"cx","a":242.5,"v":-38},{"s":"cx","a":247.5,"v":-36.5},{"s":"cx","a":252.5,"v":-37},{"s":"cx","a":257.5,"v":-37.5},{"s":"cx","a":262.5,"v":-36},{"s":"cx","a":267.5,"v":-34},{"s":"cx","a":272.5,"v":-31.7},{"s":"cx","a":277.5,"v":-30},{"s":"cx","a":282.5,"v":-29.2},{"s":"cx","a":287.5,"v":-28.7},{"s":"cx","a":292.5,"v":-28.2},{"s":"cx","a":297.5,"v":-27.7},{"s":"cx","a":302.5,"v":-27.2},{"s":"cx","a":307.5,"v":-26.5},{"s":"cx","a":312.5,"v":-25.7},{"s":"cx","a":317.5,"v":-25.2},{"s":"cx","a":322.5,"v":-24.5},{"s":"cx","a":327.5,"v":-23.7},{"s":"cx","a":332.5,"v":-23.2},{"s":"cx","a":337.5,"v":-23},{"s":"cx","a":342.5,"v":-23.2},{"s":"cx","a":347.5,"v":-24},{"s":"cx","a":352.5,"v":-25},{"s":"cx","a":357.5,"v":-26},
{"s":"zx","a":0,"v":-28},{"s":"zx","a":5,"v":-28.5},{"s":"zx","a":10,"v":-30},{"s":"zx","a":15,"v":-32},{"s":"zx","a":20,"v":-38},{"s":"zx","a":25,"v":-44},{"s":"zx","a":30,"v":-38},{"s":"zx","a":35,"v":-34.5},{"s":"zx","a":40,"v":-32.5},{"s":"zx","a":45,"v":-31},{"s":"zx","a":50,"v":-30},{"s":"zx","a":55,"v":-28.5},{"s":"zx","a":60,"v":-27.2},{"s":"zx","a":65,"v":-26},{"s":"zx","a":70,"v":-25},{"s":"zx","a":75,"v":-24.4},{"s":"zx","a":80,"v":-24.2},{"s":"zx","a":85,"v":-24},{"s":"zx","a":90,"v":-24},{"s":"zx","a":95,"v":-24.1},{"s":"zx","a":100,"v":-24.3},{"s":"zx","a":105,"v":-25},{"s":"zx","a":110,"v":-26},{"s":"zx","a":115,"v":-27.4},{"s":"zx","a":120,"v":-29},{"s":"zx","a":125,"v":-30.5},{"s":"zx","a":130,"v":-31.5},{"s":"zx","a":135,"v":-33},{"s":"zx","a":140,"v":-34.5},{"s":"zx","a":145,"v":-35.5},{"s":"zx","a":150,"v":-41},{"s":"zx","a":155,"v":-44},{"s":"zx","a":160,"v":-40},{"s":"zx","a":165,"v":-38},{"s":"zx","a":170,"v":-37},{"s":"zx","a":175,"v":-37},{"s":"zx","a":180,"v":-40},{"s":"zx","a":185,"v":-44},{"s":"zx","a":190,"v":-39},{"s":"zx","a":195,"v":-40},{"s":"zx","a":200,"v":-44},{"s":"zx","a":205,"v":-41},{"s":"zx","a":210,"v":-43},{"s":"zx","a":215,"v":-45},{"s":"zx","a":220,"v":-40},{"s":"zx","a":225,"v":-37.5},{"s":"zx","a":230,"v":-43},{"s":"zx","a":235,"v":-45},{"s":"zx","a":240,"v":-42},{"s":"zx","a":245,"v":-40},{"s":"zx","a":250,"v":-40},{"s":"zx","a":255,"v":-40},{"s":"zx","a":260,"v":-39},{"s":"zx","a":265,"v":-38},{"s":"zx","a":270,"v":-37},{"s":"zx","a":275,"v":-36},{"s":"zx","a":280,"v":-33},{"s":"zx","a":285,"v":-31.5},{"s":"zx","a":290,"v":-30},{"s":"zx","a":295,"v":-29.5},{"s":"zx","a":300,"v":-29.5},{"s":"zx","a":305,"v":-29.5},{"s":"zx","a":310,"v":-28.5},{"s":"zx","a":315,"v":-27.5},{"s":"zx","a":320,"v":-26.5},{"s":"zx","a":325,"v":-25.5},{"s":"zx","a":330,"v":-25},{"s":"zx","a":335,"v":-24.5},{"s":"zx","a":340,"v":-24.5},{"s":"zx","a":345,"v":-25},{"s":"zx","a":350,"v":-25.5},{"s":"zx","a":355,"v":-27},
{"s":"zx","a":2.5,"v":-28.2},{"s":"zx","a":7.5,"v":-29.2},{"s":"zx","a":12.5,"v":-31},{"s":"zx","a":17.5,"v":-34.5},{"s":"zx","a":22.5,"v":-41},{"s":"zx","a":27.5,"v":-41},{"s":"zx","a":32.5,"v":-36},{"s":"zx","a":37.5,"v":-33.5},{"s":"zx","a":42.5,"v":-31.7},{"s":"zx","a":47.5,"v":-30.5},{"s":"zx","a":52.5,"v":-29.2},{"s":"zx","a":57.5,"v":-27.8},{"s":"zx","a":62.5,"v":-26.6},{"s":"zx","a":67.5,"v":-25.5},{"s":"zx","a":72.5,"v":-24.7},{"s":"zx","a":77.5,"v":-24.3},{"s":"zx","a":82.5,"v":-24.1},{"s":"zx","a":87.5,"v":-24},{"s":"zx","a":92.5,"v":-24},{"s":"zx","a":97.5,"v":-24.2},{"s":"zx","a":102.5,"v":-24.6},{"s":"zx","a":107.5,"v":-25.5},{"s":"zx","a":112.5,"v":-26.7},{"s":"zx","a":117.5,"v":-28.2},{"s":"zx","a":122.5,"v":-29.8},{"s":"zx","a":127.5,"v":-31},{"s":"zx","a":132.5,"v":-32.2},{"s":"zx","a":137.5,"v":-33.8},{"s":"zx","a":142.5,"v":-35},{"s":"zx","a":147.5,"v":-38},{"s":"zx","a":152.5,"v":-42.5},{"s":"zx","a":157.5,"v":-42},{"s":"zx","a":162.5,"v":-39},{"s":"zx","a":167.5,"v":-37.5},{"s":"zx","a":172.5,"v":-37},{"s":"zx","a":177.5,"v":-38.5},{"s":"zx","a":182.5,"v":-42},{"s":"zx","a":187.5,"v":-41.5},{"s":"zx","a":192.5,"v":-39.5},{"s":"zx","a":197.5,"v":-42},{"s":"zx","a":202.5,"v":-42.5},{"s":"zx","a":207.5,"v":-42},{"s":"zx","a":212.5,"v":-44},{"s":"zx","a":217.5,"v":-42.5},{"s":"zx","a":222.5,"v":-38.7},{"s":"zx","a":227.5,"v":-40},{"s":"zx","a":232.5,"v":-44},{"s":"zx","a":237.5,"v":-43.5},{"s":"zx","a":242.5,"v":-41},{"s":"zx","a":247.5,"v":-40},{"s":"zx","a":252.5,"v":-40},{"s":"zx","a":257.5,"v":-39.5},{"s":"zx","a":262.5,"v":-38.5},{"s":"zx","a":267.5,"v":-37.5},{"s":"zx","a":272.5,"v":-36.5},{"s":"zx","a":277.5,"v":-34.5},{"s":"zx","a":282.5,"v":-32.2},{"s":"zx","a":287.5,"v":-30.7},{"s":"zx","a":292.5,"v":-29.7},{"s":"zx","a":297.5,"v":-29.5},{"s":"zx","a":302.5,"v":-29.5},{"s":"zx","a":307.5,"v":-29},{"s":"zx","a":312.5,"v":-28},{"s":"zx","a":317.5,"v":-27},{"s":"zx","a":322.5,"v":-26},{"s":"zx","a":327.5,"v":-25.2},{"s":"zx","a":332.5,"v":-24.7},{"s":"zx","a":337.5,"v":-24.5},{"s":"zx","a":342.5,"v":-24.7},{"s":"zx","a":347.5,"v":-25.2},{"s":"zx","a":352.5,"v":-26.2},{"s":"zx","a":357.5,"v":-27.5}
]
},
"hconcat":[
{
"width":303,"height":280,
"title":{"text":"E-Plane"},
"encoding":{
"x":{"field":"x","type":"quantitative","scale":{"domain":[-68.64,69.09],"nice":false,"zero":false},"axis":null},
"y":{"field":"y","type":"quantitative","scale":{"domain":[-63.18,64.09],"nice":false,"zero":false},"axis":null}
},
"layer":[
{"data":{"name":"rl"},"transform":[{"calculate":"datum.v+50","as":"r"},{"calculate":"0","as":"x"},{"calculate":"0","as":"y"}],
"mark":{"type":"point","shape":"circle","filled":false,"stroke":"#d9d9d9","strokeWidth":1,"opacity":1},
"encoding":{"size":{"field":"r","type":"quantitative","scale":{"type":"pow","exponent":2,"domain":[0,50],"range":[0,48400]},"legend":null}}},
{"data":{"name":"rl"},"transform":[{"calculate":"datum.v+50","as":"y"},{"calculate":"0","as":"x"}],
"mark":{"type":"text","align":"right","baseline":"middle","dx":-15,"fontSize":13,"fontWeight":"bold","color":"black"},
"encoding":{"text":{"field":"t"}}},
{"data":{"name":"ang"},"transform":[{"calculate":"60.5*sin(datum.a*PI/180)","as":"x"},{"calculate":"60.5*cos(datum.a*PI/180)","as":"y"}],
"mark":{"type":"text","align":"center","baseline":"middle","fontSize":14,"fontWeight":"bold","color":"black"},
"encoding":{"text":{"field":"t"}}},
{"data":{"name":"E"},"transform":[{"filter":"datum.s==='xs'"},{"calculate":"datum.v+50","as":"r"},{"calculate":"datum.r*sin(datum.a*PI/180)","as":"x"},{"calculate":"datum.r*cos(datum.a*PI/180)","as":"y"}],
"mark":{"type":"line","interpolate":"cardinal-closed","strokeDash":[7,3,2,3],"strokeWidth":1.5},
"encoding":{"order":{"field":"a","type":"quantitative"},"color":{"field":"s","type":"nominal","scale":{"domain":["cs","cc","cx","xs","zc","zx"],"range":["#e8262a","#2f9e55","#f5b335","#2e64ad","#ee3bea","#60389a"]}}}},
{"data":{"name":"E"},"transform":[{"filter":"datum.s==='cs'"},{"calculate":"datum.v+50","as":"r"},{"calculate":"datum.r*sin(datum.a*PI/180)","as":"x"},{"calculate":"datum.r*cos(datum.a*PI/180)","as":"y"}],
"mark":{"type":"line","interpolate":"cardinal-closed","strokeDash":[6,4],"strokeWidth":1.8},
"encoding":{"order":{"field":"a","type":"quantitative"},"color":{"field":"s","type":"nominal"}}},
{"data":{"name":"E"},"transform":[{"filter":"datum.s!=='cs'&&datum.s!=='xs'"},{"calculate":"datum.v+50","as":"r"},{"calculate":"datum.r*sin(datum.a*PI/180)","as":"x"},{"calculate":"datum.r*cos(datum.a*PI/180)","as":"y"}],
"mark":{"type":"point","filled":false,"size":225,"strokeWidth":1,"opacity":1},
"encoding":{
"color":{"field":"s","type":"nominal","scale":{"domain":["cs","cc","cx","xs","zc","zx"],"range":["#e8262a","#2f9e55","#f5b335","#2e64ad","#ee3bea","#60389a"]},
"legend":{"title":null,"orient":"none","legendX":14,"legendY":287,"direction":"horizontal","columns":3,"columnPadding":38,"rowPadding":5,"symbolSize":225,"symbolStrokeWidth":1.5,"labelFontSize":13.5,"labelFontWeight":"bold","labelLimit":300,"labelOffset":2,
"labelExpr":"{'cs':'Cu or Zn: Copolar (sim)','cc':'Cu: Copolar (mea)','cx':'Cu: Crosspolar (mea)','xs':'Cu or Zn: Crosspolar (sim)','zc':'Zn: Copolar (mea)','zx':'Zn: Crosspolar (mea)'}[datum.label]",
"encoding":{"labels":{"fill":{"condition":[{"test":"datum.value==='cs'","value":"#e8262a"},{"test":"datum.value==='cc'","value":"#2f9e55"},{"test":"datum.value==='cx'","value":"#f5b335"},{"test":"datum.value==='xs'","value":"#2e64ad"},{"test":"datum.value==='zc'","value":"#ee3bea"},{"test":"datum.value==='zx'","value":"#60389a"}],"value":"#000000"}}}}},
"shape":{"field":"s","type":"nominal","scale":{"domain":["cs","cc","cx","xs","zc","zx"],"range":["M-1,0H-0.3M0.3,0H1","M0.27,0A0.27,0.27,0,1,1,-0.27,0A0.27,0.27,0,1,1,0.27,0Z","M-0.22,-0.22H0.22V0.22H-0.22Z","M-1,0H-0.2M0.3,0H0.5","M-0.25,-0.25L0.25,0.25M-0.25,0.25L0.25,-0.25","M0,-0.32L0.3,0.22H-0.3Z"]},
"legend":{"title":null,"orient":"none","legendX":14,"legendY":287,"direction":"horizontal","columns":3,"columnPadding":38,"rowPadding":5,"symbolSize":225,"symbolStrokeWidth":1.5,"labelFontSize":13.5,"labelFontWeight":"bold","labelLimit":300,"labelOffset":2,
"labelExpr":"{'cs':'Cu or Zn: Copolar (sim)','cc':'Cu: Copolar (mea)','cx':'Cu: Crosspolar (mea)','xs':'Cu or Zn: Crosspolar (sim)','zc':'Zn: Copolar (mea)','zx':'Zn: Crosspolar (mea)'}[datum.label]",
"encoding":{"labels":{"fill":{"condition":[{"test":"datum.value==='cs'","value":"#e8262a"},{"test":"datum.value==='cc'","value":"#2f9e55"},{"test":"datum.value==='cx'","value":"#f5b335"},{"test":"datum.value==='xs'","value":"#2e64ad"},{"test":"datum.value==='zc'","value":"#ee3bea"},{"test":"datum.value==='zx'","value":"#60389a"}],"value":"#000000"}}}}},
"fill":{"condition":{"test":"datum.s==='zx'","value":"#60389a"},"value":"transparent"}
}}
]
},
{
"width":297,"height":280,
"title":{"text":"H-Plane"},
"encoding":{
"x":{"field":"x","type":"quantitative","scale":{"domain":[-69.55,65.45],"nice":false,"zero":false},"axis":null},
"y":{"field":"y","type":"quantitative","scale":{"domain":[-63.18,64.09],"nice":false,"zero":false},"axis":null}
},
"layer":[
{"data":{"name":"rl"},"transform":[{"calculate":"datum.v+50","as":"r"},{"calculate":"0","as":"x"},{"calculate":"0","as":"y"}],
"mark":{"type":"point","shape":"circle","filled":false,"stroke":"#d9d9d9","strokeWidth":1,"opacity":1},
"encoding":{"size":{"field":"r","type":"quantitative","scale":{"type":"pow","exponent":2,"domain":[0,50],"range":[0,48400]},"legend":null}}},
{"data":{"name":"rl"},"transform":[{"calculate":"datum.v+50","as":"y"},{"calculate":"0","as":"x"}],
"mark":{"type":"text","align":"right","baseline":"middle","dx":-15,"fontSize":13,"fontWeight":"bold","color":"black"},
"encoding":{"text":{"field":"t"}}},
{"data":{"name":"ang"},"transform":[{"calculate":"60.5*sin(datum.a*PI/180)","as":"x"},{"calculate":"60.5*cos(datum.a*PI/180)","as":"y"}],
"mark":{"type":"text","align":"center","baseline":"middle","fontSize":14,"fontWeight":"bold","color":"black"},
"encoding":{"text":{"field":"t"}}},
{"data":{"name":"H"},"transform":[{"filter":"datum.s==='xs'"},{"calculate":"datum.v+50","as":"r"},{"calculate":"datum.r*sin(datum.a*PI/180)","as":"x"},{"calculate":"datum.r*cos(datum.a*PI/180)","as":"y"}],
"mark":{"type":"line","interpolate":"cardinal-closed","strokeDash":[7,3,2,3],"strokeWidth":1.5},
"encoding":{"order":{"field":"a","type":"quantitative"},"color":{"field":"s","type":"nominal"}}},
{"data":{"name":"H"},"transform":[{"filter":"datum.s==='cs'"},{"calculate":"datum.v+50","as":"r"},{"calculate":"datum.r*sin(datum.a*PI/180)","as":"x"},{"calculate":"datum.r*cos(datum.a*PI/180)","as":"y"}],
"mark":{"type":"line","interpolate":"cardinal-closed","strokeDash":[6,4],"strokeWidth":1.8},
"encoding":{"order":{"field":"a","type":"quantitative"},"color":{"field":"s","type":"nominal"}}},
{"data":{"name":"H"},"transform":[{"filter":"datum.s!=='cs'&&datum.s!=='xs'"},{"calculate":"datum.v+50","as":"r"},{"calculate":"datum.r*sin(datum.a*PI/180)","as":"x"},{"calculate":"datum.r*cos(datum.a*PI/180)","as":"y"}],
"mark":{"type":"point","filled":false,"size":225,"strokeWidth":1,"opacity":1},
"encoding":{
"color":{"field":"s","type":"nominal"},
"shape":{"field":"s","type":"nominal"},
"fill":{"condition":{"test":"datum.s==='zx'","value":"#60389a"},"value":"transparent"}
}}
]
}
]
}
